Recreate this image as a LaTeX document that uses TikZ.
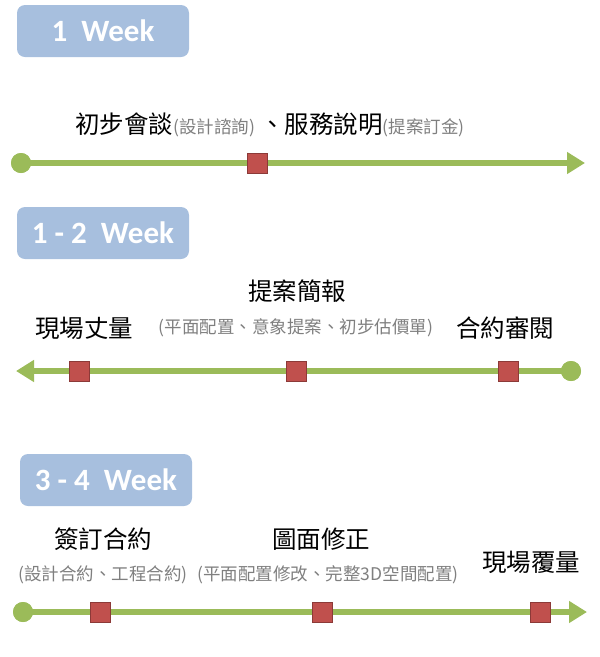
\documentclass[tikz,border=0pt]{standalone}
\usepackage{fontspec}
\setmainfont{Carlito}
\newfontfamily\cjk{Noto Sans CJK TC}
\usetikzlibrary{arrows.meta}
\definecolor{lgreen}{HTML}{9BBB59}
\definecolor{sqred}{HTML}{C0504D}
\definecolor{sqborder}{HTML}{8C3A38}
\definecolor{boxblue}{HTML}{A7BFDE}
\definecolor{greytext}{HTML}{7F7F7F}
\newcommand{\bigtxt}{\fontsize{24.5}{26}\selectfont}
\newcommand{\smalltxt}{\fontsize{17.5}{19}\selectfont\color{greytext}}
\tikzset{
  weekbox/.style={fill=boxblue, rounded corners=8pt, minimum width=172pt, minimum height=52pt,
    text=white, font=\fontsize{31}{31}\bfseries\selectfont, inner sep=0pt},
  tline/.style={draw=lgreen, line width=6pt, -{Triangle[length=18pt,width=21pt]}},
  dot/.style={circle, fill=lgreen, minimum size=20pt, inner sep=0pt},
  sq/.style={rectangle, fill=sqred, draw=sqborder, line width=1pt, minimum size=20pt, inner sep=0pt},
  lbl/.style={font=\cjk\bigtxt, inner sep=0pt},
  sub/.style={font=\cjk\smalltxt, text=greytext, inner sep=0pt}
}
\begin{document}
\begin{tikzpicture}[x=1pt,y=-1pt]
\useasboundingbox (0,0) rectangle (600,657);
% ---------- 1 Week
\node[weekbox] (w1) at (103,31) {1\ \ Week};
\node[lbl, anchor=base] (t1) at (270,133) {初步會談{\smalltxt(設計諮詢)} 、服務說明{\smalltxt(提案訂金)}};
\node[dot] (s1) at (21,163) {};
\coordinate (e1) at (585,163);
\draw[tline] (s1.center) -- (e1);
\node[dot] at (s1) {};
\node[sq] (m11) at (257,163) {};
% ---------- 1-2 Week
\node[weekbox] (w2) at (103,233) {1 - 2\ \ Week};
\node[lbl] (t21) at (297,291) {提案簡報};
\node[lbl] (t22) at (84,328) {現場丈量};
\node[sub] (t23) at (296,328) {(平面配置、意象提案、初步估價單)};
\node[lbl] (t24) at (505,328) {合約審閱};
\node[dot] (s2) at (571,371) {};
\coordinate (e2) at (16,371);
\draw[tline] (s2.center) -- (e2);
\node[dot] at (s2) {};
\node[sq] (m21) at (79,371) {};
\node[sq] (m22) at (296,371) {};
\node[sq] (m23) at (508,371) {};
% ---------- 3-4 Week
\node[weekbox] (w3) at (106,480) {3 - 4\ \ Week};
\node[lbl] (t31) at (103,539) {簽訂合約};
\node[sub] (t32) at (103,575) {(設計合約、工程合約)};
\node[lbl] (t33) at (321,539) {圖面修正};
\node[sub] (t34) at (328,575) {(平面配置修改、完整3D空間配置)};
\node[lbl] (t35) at (531,562) {現場覆量};
\node[dot] (s3) at (23,612) {};
\coordinate (e3) at (587,612);
\draw[tline] (s3.center) -- (e3);
\node[dot] at (s3) {};
\node[sq] (m31) at (100,612) {};
\node[sq] (m32) at (322,612) {};
\node[sq] (m33) at (540,612) {};
\end{tikzpicture}
\end{document}
